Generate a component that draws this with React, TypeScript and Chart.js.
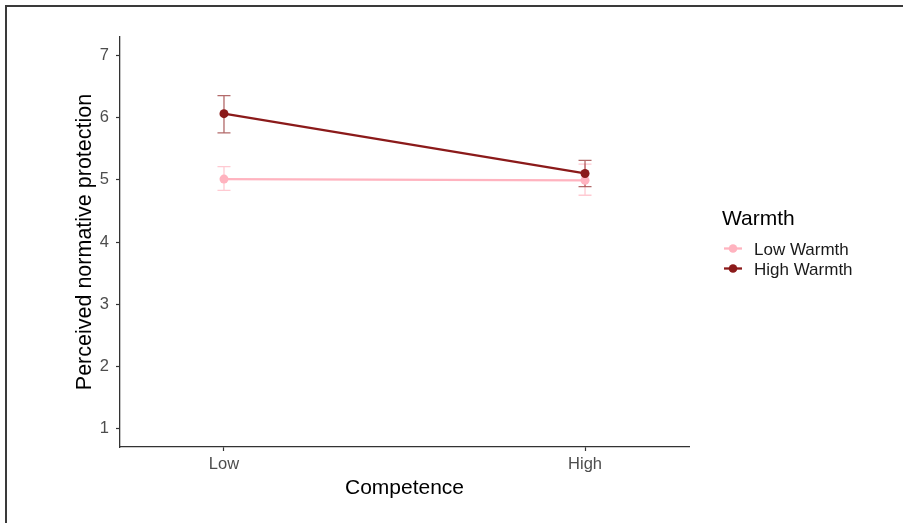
import React, { useEffect, useRef } from "react";
import { Chart, registerables } from "chart.js";

Chart.register(...registerables);

// ---- data ----
const categories = ["Low", "High"];
const categoryPositions = [0, 1];
const seriesNames = ["Low Warmth", "High Warmth"];
const lowWarmthMeans = [5.01, 4.99];
const lowWarmthLower = [4.83, 4.75];
const lowWarmthUpper = [5.21, 5.25];
const highWarmthMeans = [6.06, 5.1];
const highWarmthLower = [5.75, 4.89];
const highWarmthUpper = [6.35, 5.31];
const yTicks = [1, 2, 3, 4, 5, 6, 7];
const legendTitle = "Warmth";
const xTitle = "Competence";
const yTitle = "Perceived normative protection";

const FAMILY = "'Liberation Sans', Arial, Helvetica, sans-serif";
const PINK = "#ffb3bf";
const DARK = "#8b1a1a";

const errorBarPlugin = {
  id: "errorBars",
  beforeDatasetsDraw(chart: any) {
    const { ctx, scales } = chart;
    const xs = scales.x;
    const ys = scales.y;
    chart.data.datasets.forEach((ds: any, di: number) => {
      const meta = chart.getDatasetMeta(di);
      if (meta.hidden) return;
      ctx.save();
      ctx.strokeStyle = ds.errorColor;
      ctx.lineWidth = 1.3;
      ds.data.forEach((pt: any, i: number) => {
        const x = xs.getPixelForValue(pt.x);
        const yl = ys.getPixelForValue(ds.lower[i]);
        const yu = ys.getPixelForValue(ds.upper[i]);
        const hw = 6.5;
        ctx.beginPath();
        ctx.moveTo(x, yl);
        ctx.lineTo(x, yu);
        ctx.moveTo(x - hw, yl);
        ctx.lineTo(x + hw, yl);
        ctx.moveTo(x - hw, yu);
        ctx.lineTo(x + hw, yu);
        ctx.stroke();
      });
      ctx.restore();
    });
  },
};

const legendPlugin = {
  id: "ggLegend",
  afterDraw(chart: any) {
    const { ctx } = chart;
    ctx.save();
    ctx.fillStyle = "#000";
    ctx.textAlign = "left";
    ctx.textBaseline = "alphabetic";
    ctx.font = `21px ${FAMILY}`;
    ctx.fillText(legendTitle, 722, 225);
    const baselines = [255, 275];
    chart.data.datasets.forEach((ds: any, i: number) => {
      const cy = baselines[i] - 6.5;
      ctx.strokeStyle = ds.borderColor;
      ctx.lineWidth = 2.3;
      ctx.beginPath();
      ctx.moveTo(724, cy);
      ctx.lineTo(742, cy);
      ctx.stroke();
      ctx.fillStyle = ds.borderColor;
      ctx.beginPath();
      ctx.arc(733, cy, 4.3, 0, Math.PI * 2);
      ctx.fill();
      ctx.fillStyle = "#1a1a1a";
      ctx.font = `17px ${FAMILY}`;
      ctx.fillText(ds.label, 754, baselines[i]);
    });
    ctx.restore();
  },
};

export default function App() {
  const canvasRef = useRef<HTMLCanvasElement | null>(null);

  useEffect(() => {
    if (!canvasRef.current) return;
    const mk = (means: number[]) => means.map((v, i) => ({ x: categoryPositions[i], y: v }));
    const chart = new Chart(canvasRef.current, {
      type: "line",
      data: {
        datasets: [
          {
            label: seriesNames[0],
            data: mk(lowWarmthMeans),
            borderColor: PINK,
            backgroundColor: PINK,
            pointBackgroundColor: PINK,
            pointBorderWidth: 0,
            pointRadius: 4.5,
            borderWidth: 2.3,
            tension: 0,
            order: 1,
            lower: lowWarmthLower,
            upper: lowWarmthUpper,
            errorColor: "rgba(255,179,191,0.7)",
          } as any,
          {
            label: seriesNames[1],
            data: mk(highWarmthMeans),
            borderColor: DARK,
            backgroundColor: DARK,
            pointBackgroundColor: DARK,
            pointBorderWidth: 0,
            pointRadius: 4.5,
            borderWidth: 2.3,
            tension: 0,
            order: 0,
            lower: highWarmthLower,
            upper: highWarmthUpper,
            errorColor: "rgba(139,26,26,0.65)",
          } as any,
        ],
      },
      options: {
        animation: false,
        responsive: false,
        layout: { padding: { left: 60, right: 214, top: 37, bottom: 22 } },
        plugins: {
          legend: { display: false },
          tooltip: { enabled: false },
        },
        scales: {
          x: {
            type: "linear",
            min: -0.288,
            max: 1.288,
            afterBuildTicks: (s: any) => {
              s.ticks = categoryPositions.map((v) => ({ value: v }));
            },
            afterFit: (s: any) => {
              s.height = 523 - 447 - 22;
            },
            ticks: {
              callback: (_v: any, i: number) => categories[i],
              font: { size: 16.5, family: FAMILY },
              color: "#4d4d4d",
              padding: 4,
              maxRotation: 0,
              autoSkip: false,
            },
            grid: {
              drawOnChartArea: false,
              drawTicks: true,
              tickLength: 4,
              tickColor: "#333333",
              tickWidth: 1.2,
            },
            border: { display: true, color: "#333333", width: 1.3 },
            title: {
              display: true,
              text: xTitle,
              font: { size: 21, family: FAMILY },
              color: "#000",
              padding: 0,
            },
          },
          y: {
            type: "linear",
            min: 0.71,
            max: 7.29,
            afterBuildTicks: (s: any) => {
              s.ticks = yTicks.map((v) => ({ value: v }));
            },
            afterFit: (s: any) => {
              s.width = 60;
            },
            ticks: {
              font: { size: 16.5, family: FAMILY },
              color: "#4d4d4d",
              padding: 7,
            },
            grid: {
              drawOnChartArea: false,
              drawTicks: true,
              tickLength: 4,
              tickColor: "#333333",
              tickWidth: 1.2,
            },
            border: { display: true, color: "#333333", width: 1.3 },
            title: {
              display: true,
              text: yTitle,
              font: { size: 21.5, family: FAMILY },
              color: "#000",
              padding: { top: 12, bottom: 0 },
            },
          },
        },
      } as any,
      plugins: [errorBarPlugin, legendPlugin],
    });
    return () => chart.destroy();
  }, []);

  return (
    <div
      style={{
        position: "fixed",
        left: 0,
        top: 0,
        width: 903,
        height: 523,
        background: "#fff",
        overflow: "hidden",
      }}
    >
      <canvas ref={canvasRef} width={903} height={523} style={{ width: 903, height: 523, display: "block" }} />
      <div
        style={{
          position: "absolute",
          left: 5,
          top: 5,
          right: 0,
          bottom: 0,
          borderTop: "2px solid #3a3a3a",
          borderLeft: "2px solid #3a3a3a",
          pointerEvents: "none",
        }}
      />
    </div>
  );
}
